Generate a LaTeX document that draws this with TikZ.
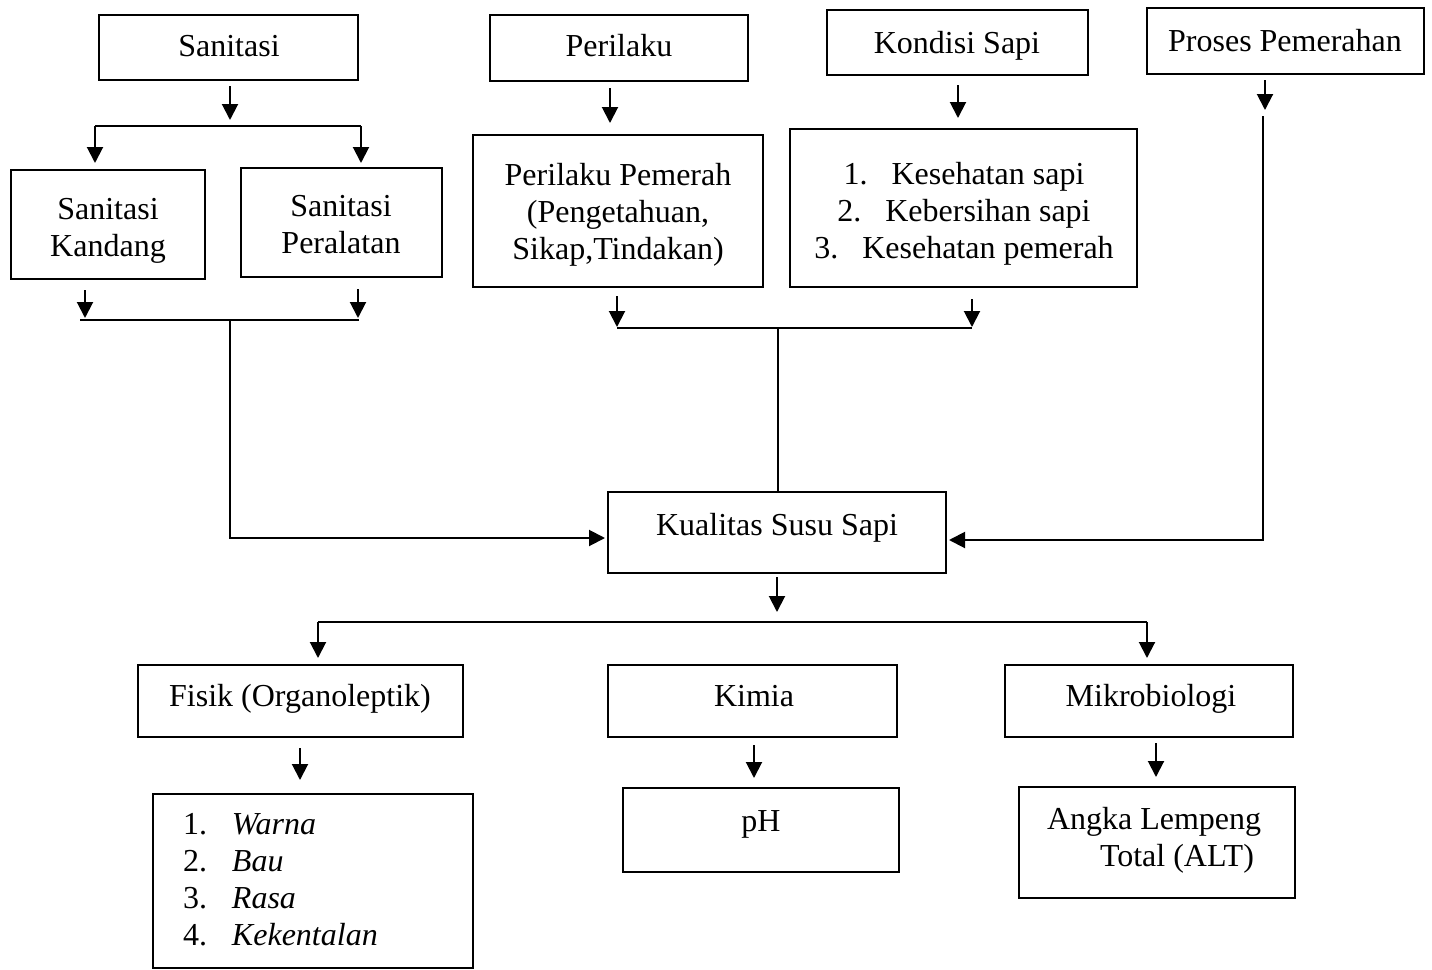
\documentclass[tikz,border=0pt]{standalone}
\usepackage{fontspec}
\setmainfont{Liberation Serif}
\usetikzlibrary{arrows.meta,calc}

\begin{document}
\begin{tikzpicture}[y=0.50pt, x=0.5pt,yscale=-1, inner sep=0pt, outer sep=0pt,
  box/.style={draw=black,line width=1.4pt,rectangle},
  txt/.style={anchor=base,align=center,font=\fontsize{16pt}{18.5pt}\selectfont},
  line/.style={draw=black,line width=1pt},
  arr/.style={line,-{Triangle[length=8pt,width=8pt]}}]
  \useasboundingbox (0,0) rectangle (1432,970);
  \path (228.5,47.5) node[box,minimum width=129.5pt,minimum height=32.5pt] (sanitasi) {};
  \path (108,224.5) node[box,minimum width=97pt,minimum height=54.5pt] (kandang) {};
  \path (341.5,222.5) node[box,minimum width=100.5pt,minimum height=54.5pt] (peralatan) {};
  \path (619,48) node[box,minimum width=129pt,minimum height=33pt] (perilaku) {};
  \path (618,211) node[box,minimum width=145pt,minimum height=76pt] (pemerah) {};
  \path (957.5,42.5) node[box,minimum width=130.5pt,minimum height=32.5pt] (kondisi) {};
  \path (963.5,208) node[box,minimum width=173.5pt,minimum height=79pt] (kondisiList) {};
  \path (1285.5,41) node[box,minimum width=138.5pt,minimum height=33pt] (proses) {};
  \path (777,532.5) node[box,minimum width=169pt,minimum height=40.5pt] (kualitas) {};
  \path (300.5,701) node[box,minimum width=162.5pt,minimum height=36pt] (fisik) {};
  \path (752.5,701) node[box,minimum width=144.5pt,minimum height=36pt] (kimia) {};
  \path (1149,701) node[box,minimum width=144pt,minimum height=36pt] (mikro) {};
  \path (313,881) node[box,minimum width=160pt,minimum height=87pt] (fisikList) {};
  \path (761,830) node[box,minimum width=138pt,minimum height=42pt] (ph) {};
  \path (1157,842.5) node[box,minimum width=138pt,minimum height=55.5pt] (alt) {};

  \path (229,56) node[txt] (textSanitasi) {Sanitasi};
  \path (108,256) node[txt] (textKandang) {Sanitasi\\Kandang};
  \path (341,253) node[txt] (textPeralatan) {Sanitasi\\Peralatan};
  \path (619,56) node[txt] (textPerilaku) {Perilaku};
  \path (618,259) node[txt] (textPemerah) {Perilaku Pemerah\\(Pengetahuan,\\Sikap,Tindakan)};
  \path (957,53) node[txt] (textKondisi) {Kondisi Sapi};
  \path (964,258) node[txt] (textKondisiList) {1.\hspace{12pt}Kesehatan sapi\\2.\hspace{12pt}Kebersihan sapi\\3.\hspace{12pt}Kesehatan pemerah};
  \path (1285,51) node[txt] (textProses) {Proses Pemerahan};
  \path (777,535) node[txt] (textKualitas) {Kualitas Susu Sapi};
  \path (300,706) node[txt] (textFisik) {Fisik (Organoleptik)};
  \path (754,706) node[txt] (textKimia) {Kimia};
  \path (1151,706) node[txt] (textMikro) {Mikrobiologi};
  \path (183,945) node[txt,anchor=base west,align=left] (textFisikList) {\makebox[24.5pt][l]{1.}\textit{Warna}\\\makebox[24.5pt][l]{2.}\textit{Bau}\\\makebox[24.5pt][l]{3.}\textit{Rasa}\\\makebox[24.5pt][l]{4.}\textit{Kekentalan}};
  \path (761,831) node[txt] (textPh) {pH};
  \path (1047,866) node[txt,anchor=base west,align=left] (textAlt) {Angka Lempeng\\\hspace*{26.5pt}Total (ALT)};

  \coordinate (sanL) at (95,126);
  \coordinate (sanR) at (361,126);
  \coordinate (sanB) at (230,320);
  \coordinate (prlB) at (778,328);
  \coordinate (prsT) at (1263,116);
  \coordinate (kuaL) at (318,622);
  \coordinate (kuaR) at (1147,622);

  \draw[arr] ($(sanitasi.south)+(1.5,6)$) -- ++(0,34);
  \draw[line] (sanL) -- (sanR);
  \draw[arr] (sanL) -- ($(sanL |- kandang.north)+(0,-7)$);
  \draw[arr] (sanR) -- ($(sanR |- peralatan.north)+(0,-5)$);
  \draw[arr] ($(kandang.south)+(-23,11)$) -- ++(0,28);
  \draw[arr] ($(peralatan.south)+(16.5,12)$) -- ++(0,29);
  \draw[line] (80,320) -- (359,320);
  \draw[arr] (sanB) |- ($(kualitas.west)+(-3,5.5)$);

  \draw[arr] ($(perilaku.south)+(-9,7)$) -- ++(0,35);
  \draw[arr] ($(kondisi.south)+(0.5,10)$) -- ++(0,33);
  \draw[arr] ($(pemerah.south)+(-1,9)$) -- ++(0,31);
  \draw[arr] ($(kondisiList.south)+(8.5,12)$) -- ++(0,28);
  \draw[line] (617,328) -- (972,328);
  \draw[line] (prlB) -- (prlB |- kualitas.north);

  \draw[arr] ($(proses.south)+(-20.5,6)$) -- ++(0,30);
  \draw[arr] (prsT) |- ($(kualitas.east)+(3,7.5)$);

  \draw[arr] ($(kualitas.south)+(0,4)$) -- ++(0,35);
  \draw[line] (kuaL) -- (kuaR);
  \draw[arr] (kuaL) -- ($(kuaL |- fisik.north)+(0,-7)$);
  \draw[arr] (kuaR) -- ($(kuaR |- mikro.north)+(0,-7)$);
  \draw[arr] ($(fisik.south)+(-0.5,11)$) -- ++(0,32);
  \draw[arr] ($(kimia.south)+(1.5,8)$) -- ++(0,33);
  \draw[arr] ($(mikro.south)+(7,6)$) -- ++(0,34);
\end{tikzpicture}
\end{document}
